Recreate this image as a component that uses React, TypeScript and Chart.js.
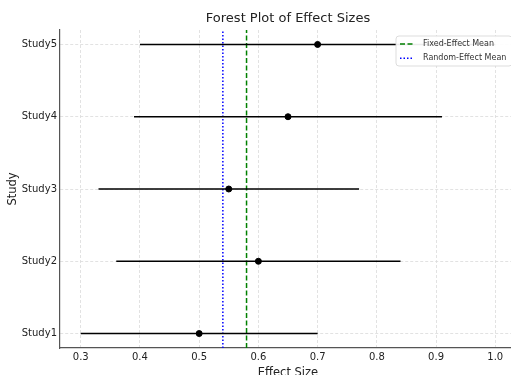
import React, { useEffect, useRef } from "react";
import { Chart, registerables } from "chart.js";

Chart.register(...registerables);

const studies = ["Study1", "Study2", "Study3", "Study4", "Study5"];
const effects = [0.5, 0.6, 0.55, 0.65, 0.7];
const lowerCI = [0.3, 0.36, 0.33, 0.39, 0.4];
const upperCI = [0.7, 0.84, 0.77, 0.91, 1.0];
const fixedMean = 0.58;
const randomMean = 0.54;
const xTicks = [0.3, 0.4, 0.5, 0.6, 0.7, 0.8, 0.9, 1.0];

const FONT = "DejaVu Sans";
const W = 530;
const H = 385;

const legendPlugin = {
  id: "customLegend",
  afterDatasetsDraw(chart: any) {
    const ctx = chart.ctx;
    const items = chart.data.datasets.filter((d: any) => d.inLegend);
    const x0 = 396;
    const y0 = 36;
    const w = 116;
    const h = 30;
    ctx.save();
    ctx.beginPath();
    ctx.roundRect(x0, y0, w, h, 3);
    ctx.fillStyle = "rgba(255,255,255,0.92)";
    ctx.fill();
    ctx.strokeStyle = "#d4d4d4";
    ctx.lineWidth = 0.8;
    ctx.stroke();
    items.forEach((d: any, i: number) => {
      const y = 44 + i * 14.3;
      ctx.beginPath();
      ctx.setLineDash(d.borderDash || []);
      ctx.strokeStyle = d.borderColor;
      ctx.lineWidth = d.borderWidth;
      ctx.moveTo(400, y);
      ctx.lineTo(414, y);
      ctx.stroke();
      ctx.setLineDash([]);
      ctx.fillStyle = "#333";
      ctx.font = `8px "${FONT}"`;
      ctx.textBaseline = "middle";
      ctx.textAlign = "left";
      ctx.fillText(d.label, 423, y);
    });
    ctx.restore();
  },
};

export default function App() {
  const ref = useRef<HTMLCanvasElement>(null);
  useEffect(() => {
    if (!ref.current) return;
    const ciSets = studies.map((s, i) => ({
      label: s + " CI",
      data: [
        { x: lowerCI[i], y: i + 1 },
        { x: upperCI[i], y: i + 1 },
      ],
      showLine: true,
      borderColor: "#000",
      borderWidth: 1.5,
      pointRadius: 0,
    }));
    const chart = new Chart(ref.current, {
      type: "scatter",
      data: {
        datasets: [
          ...ciSets,
          {
            label: "Effect",
            data: effects.map((e, i) => ({ x: e, y: i + 1 })),
            backgroundColor: "#000",
            borderColor: "#000",
            pointRadius: 3,
          },
          {
            label: "Fixed-Effect Mean",
            inLegend: true,
            data: [
              { x: fixedMean, y: 0.8 },
              { x: fixedMean, y: 5.2 },
            ],
            showLine: true,
            borderColor: "#008000",
            borderWidth: 1.5,
            borderDash: [5, 2.5],
            pointRadius: 0,
          },
          {
            label: "Random-Effect Mean",
            inLegend: true,
            data: [
              { x: randomMean, y: 0.8 },
              { x: randomMean, y: 5.2 },
            ],
            showLine: true,
            borderColor: "#0000ff",
            borderWidth: 1.5,
            borderDash: [1.5, 2],
            pointRadius: 0,
          },
        ] as any,
      },
      options: {
        animation: false,
        responsive: false,
        devicePixelRatio: 1,
        layout: { padding: { left: 0, right: 14, top: 0, bottom: 0 } },
        plugins: {
          legend: { display: false },
          tooltip: { enabled: false },
          title: {
            display: true,
            text: "Forest Plot of Effect Sizes",
            fullSize: false,
            color: "#222",
            font: { family: FONT, size: 13, weight: "normal" },
            padding: { top: 11, bottom: 3.4 },
          },
        },
        scales: {
          x: {
            type: "linear",
            min: 0.265,
            max: 1.035,
            afterBuildTicks: (s: any) => {
              s.ticks = xTicks.map((v) => ({ value: v }));
            },
            afterFit: (s: any) => {
              s.height = H - 348;
            },
            grid: {
              color: "#dadada",
              lineWidth: 0.8,
              drawTicks: false,
            },
            border: { display: true, color: "#555", width: 1.2, dash: [3, 2] },
            ticks: {
              padding: 3,
              color: "#222",
              font: { family: FONT, size: 10 },
              callback: (v: any) => Number(v).toFixed(1),
            },
            title: {
              display: true,
              text: "Effect Size",
              color: "#222",
              font: { family: FONT, size: 11.5 },
              padding: { top: 0, bottom: 5.5 },
            },
          },
          y: {
            type: "linear",
            min: 0.8,
            max: 5.2,
            afterBuildTicks: (s: any) => {
              s.ticks = studies.map((_, i) => ({ value: i + 1 }));
            },
            afterFit: (s: any) => {
              s.width = 60;
            },
            grid: {
              color: "#dadada",
              lineWidth: 0.8,
              drawTicks: false,
            },
            border: { display: true, color: "#555", width: 1.2, dash: [3, 2] },
            ticks: {
              padding: 3,
              color: "#222",
              font: { family: FONT, size: 10 },
              callback: (v: any) => studies[Math.round(Number(v)) - 1] ?? "",
            },
            title: {
              display: true,
              text: "Study",
              color: "#222",
              font: { family: FONT, size: 11.5 },
              padding: { top: 6.4, bottom: 0 },
            },
          },
        },
      } as any,
      plugins: [legendPlugin],
    });
    return () => chart.destroy();
  }, []);

  return (
    <div
      style={{
        position: "fixed",
        left: 0,
        top: 0,
        width: 511,
        height: 375,
        overflow: "hidden",
        background: "#fff",
      }}
    >
      <canvas ref={ref} width={W} height={H} style={{ width: W, height: H, display: "block" }} />
    </div>
  );
}
